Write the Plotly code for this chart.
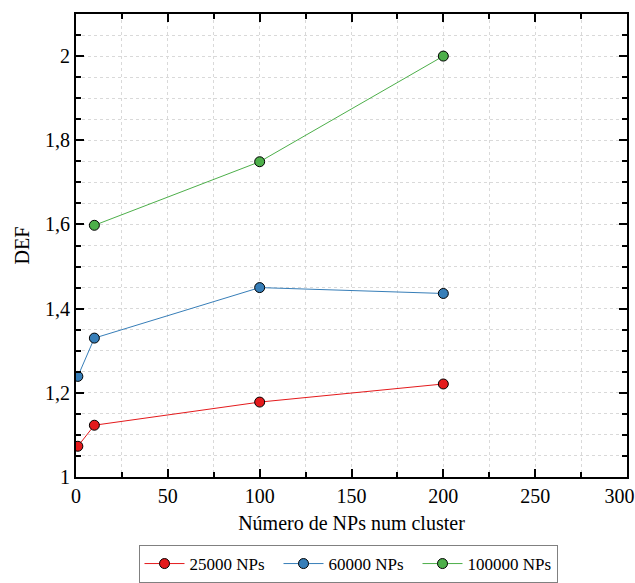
import plotly.graph_objects as go

x_25k = [1, 10, 100, 200]
y_25k = [1.073, 1.123, 1.178, 1.221]
x_60k = [1, 10, 100, 200]
y_60k = [1.239, 1.330, 1.450, 1.436]
x_100k = [10, 100, 200]
y_100k = [1.598, 1.749, 2.0]
x_tickvals = [0, 50, 100, 150, 200, 250, 300]
x_ticktext = ["0", "50", "100", "150", "200", "250", "300\u00a0\u00a0\u00a0"]

series = [
    ("25000 NPs", x_25k, y_25k, "#e41a1c"),
    ("60000 NPs", x_60k, y_60k, "#377eb8"),
    ("100000 NPs", x_100k, y_100k, "#4daf4a"),
]

fig = go.Figure()
for name, xs, ys, c in series:
    fig.add_trace(go.Scatter(
        x=xs, y=ys, name=name, mode="lines+markers",
        line=dict(color=c, width=1),
        marker=dict(color=c, size=10, line=dict(color="black", width=1)),
    ))

font = "Liberation Serif, Times New Roman, serif"
fig.update_layout(
    width=635, height=583,
    margin=dict(l=76, r=8, t=14, b=106, autoexpand=False),
    paper_bgcolor="white", plot_bgcolor="white",
    separators=", ",
    font=dict(family=font, size=20, color="black"),
    showlegend=True,
    legend=dict(
        orientation="h", x=348 / 635, xanchor="center", xref="container",
        y=(583 - 545) / 583, yanchor="top", yref="container",
        bordercolor="#808080", borderwidth=1, font=dict(family=font, size=17),
        itemwidth=40, entrywidth=84,
    ),
)
fig.update_xaxes(
    range=[0, 300], tickvals=x_tickvals, ticktext=x_ticktext, automargin=False,
    ticklabeloverflow="allow",
    showline=True, linecolor="black", linewidth=2, mirror="allticks",
    ticks="inside", ticklen=8, tickwidth=1.5, tickcolor="black",
    showgrid=True, gridcolor="#d9d9d9", griddash="dot", gridwidth=1,
    minor=dict(dtick=25, tick0=0, ticks="inside", ticklen=5, tickcolor="black",
               showgrid=True, gridcolor="#d9d9d9", griddash="dot"),
    zeroline=False,
    title=dict(text="Número de NPs num cluster", font=dict(family=font, size=20), standoff=10),
    tickfont=dict(family=font, size=20),
)
fig.update_yaxes(
    range=[1, 2.1], dtick=0.2, tick0=1, automargin=False,
    showline=True, linecolor="black", linewidth=2, mirror="allticks",
    ticks="inside", ticklen=8, tickwidth=1.5, tickcolor="black",
    showgrid=True, gridcolor="#d9d9d9", griddash="dot", gridwidth=1,
    minor=dict(dtick=0.05, ticks="inside", ticklen=5, tickcolor="black",
               showgrid=True, gridcolor="#d9d9d9", griddash="dot"),
    zeroline=False,
    title=dict(text="DEF", font=dict(family=font, size=20), standoff=10),
    tickfont=dict(family=font, size=20),
)
fig.write_html("out.html")
